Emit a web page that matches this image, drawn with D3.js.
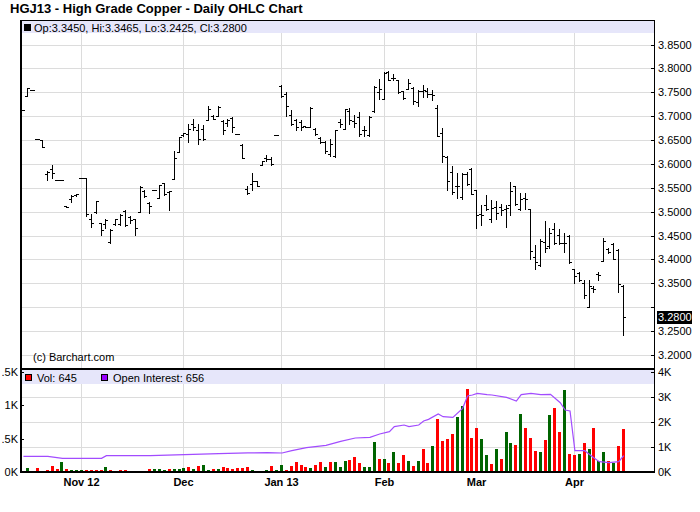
<!DOCTYPE html>
<html>
<head>
<meta charset="utf-8">
<script src="https://cdn.jsdelivr.net/npm/d3@7"></script>
<style>
  html, body { margin: 0; padding: 0; background: #fff; }
  svg { display: block; font-family: "Liberation Sans", Arial, sans-serif; }
</style>
</head>
<body>
<svg id="chart" width="700" height="512"></svg>
<script>
// ---------------- DATA ----------------
const title = "HGJ13 - High Grade Copper - Daily OHLC Chart";
const firstDay = -12;   // trading-day index of first bar (Nov 1, 2012 = 0)
const opens = [
 3.713,3.742,3.755,3.652,3.650,3.579,3.589,3.566,3.566,3.512,
 3.5275,3.5345,3.570,3.570,3.4855,3.4995,3.4755,3.4735,3.4365,3.4735,
 3.4735,3.5015,3.488,3.484,3.4995,3.543,3.5175,3.545,3.5295,3.5595,
 3.541,3.568,3.625,3.6605,3.663,3.684,3.672,3.673,3.692,3.701,
 3.7005,3.690,3.686,3.6965,3.663,3.640,3.547,3.5575,3.564,3.5975,
 3.6125,3.610,3.6605,3.764,3.747,3.703,3.692,3.688,3.6795,3.6775,
 3.673,3.6545,3.646,3.6205,3.6165,3.688,3.673,3.711,3.690,3.6985,
 3.671,3.6605,3.711,3.751,3.7365,3.793,3.780,3.776,3.752,3.7575,
 3.7595,3.730,3.753,3.753,3.747,3.7175,3.665,3.6155,3.583,3.5535,
 3.530,3.5785,3.589,3.545,3.495,3.513,3.484,3.509,3.509,3.505,
 3.5135,3.5535,3.505,3.528,3.506,3.406,3.388,3.4375,3.429,3.463,
 3.4505,3.4355,3.450,3.380,3.3725,3.3515,3.301,3.341,3.3705,3.3965,
 3.421,3.4315,3.4195,3.3450];
const highs = [
 3.713,3.759,3.755,3.652,3.650,3.585,3.598,3.566,3.566,3.512,
 3.5345,3.538,3.570,3.570,3.4945,3.5225,3.477,3.4855,3.463,3.4855,
 3.4945,3.5035,3.491,3.484,3.553,3.545,3.5205,3.545,3.5555,3.561,
 3.5435,3.628,3.656,3.665,3.684,3.694,3.684,3.682,3.722,3.703,
 3.722,3.691,3.693,3.698,3.663,3.642,3.553,3.581,3.5645,3.6065,
 3.6185,3.614,3.6605,3.766,3.7505,3.712,3.694,3.691,3.680,3.719,
 3.675,3.656,3.6485,3.652,3.672,3.694,3.7155,3.717,3.7015,3.7085,
 3.680,3.700,3.763,3.777,3.7925,3.794,3.789,3.776,3.7525,3.777,
 3.761,3.754,3.7645,3.759,3.754,3.724,3.675,3.616,3.595,3.581,
 3.581,3.5835,3.5905,3.5455,3.5135,3.5345,3.5245,3.5225,3.517,3.5135,
 3.563,3.554,3.540,3.540,3.5065,3.431,3.442,3.480,3.4665,3.4755,
 3.463,3.4545,3.4505,3.380,3.373,3.358,3.358,3.345,3.373,3.4455,
 3.4245,3.4335,3.421,3.3465];
const lows = [
 3.713,3.742,3.755,3.652,3.635,3.567,3.570,3.566,3.566,3.509,
 3.5205,3.533,3.570,3.491,3.4685,3.498,3.4505,3.4665,3.435,3.4715,
 3.4715,3.470,3.477,3.451,3.4995,3.5315,3.498,3.545,3.5295,3.5345,
 3.5035,3.568,3.624,3.659,3.645,3.672,3.642,3.651,3.691,3.693,
 3.700,3.663,3.680,3.6665,3.663,3.612,3.5365,3.5455,3.553,3.5975,
 3.6065,3.5975,3.6605,3.740,3.700,3.682,3.670,3.672,3.677,3.677,
 3.661,3.644,3.623,3.616,3.614,3.677,3.673,3.684,3.677,3.659,
 3.659,3.659,3.7085,3.7365,3.7365,3.775,3.776,3.748,3.7365,3.756,
 3.726,3.722,3.740,3.740,3.733,3.658,3.603,3.5455,3.5365,3.5295,
 3.5275,3.5555,3.5365,3.4665,3.472,3.5035,3.478,3.4855,3.4925,3.468,
 3.493,3.514,3.5035,3.505,3.402,3.380,3.386,3.415,3.424,3.4315,
 3.433,3.415,3.393,3.351,3.3555,3.319,3.300,3.331,3.358,3.396,
 3.4125,3.401,3.331,3.2425];
const closes = [
 3.713,3.759,3.755,3.652,3.635,3.584,3.582,3.566,3.566,3.509,
 3.5325,3.5365,3.570,3.496,3.477,3.5225,3.4615,3.482,3.4615,3.484,
 3.4925,3.4715,3.482,3.4665,3.5515,3.5325,3.512,3.545,3.5555,3.5365,
 3.543,3.612,3.6555,3.664,3.673,3.6775,3.652,3.652,3.7155,3.694,
 3.7195,3.670,3.692,3.677,3.663,3.6125,3.539,3.5645,3.5535,3.606,
 3.611,3.600,3.6605,3.743,3.722,3.684,3.6775,3.6775,3.6775,3.7175,
 3.663,3.646,3.627,3.642,3.670,3.684,3.7155,3.692,3.686,3.663,
 3.670,3.6985,3.762,3.7575,3.791,3.776,3.779,3.751,3.7375,3.770,
 3.732,3.753,3.754,3.747,3.745,3.659,3.617,3.5645,3.5415,3.553,
 3.579,3.5575,3.5365,3.4925,3.4935,3.505,3.5085,3.4965,3.503,3.507,
 3.5435,3.5155,3.5275,3.527,3.417,3.3955,3.4385,3.425,3.456,3.435,
 3.4355,3.435,3.395,3.366,3.358,3.326,3.3435,3.339,3.368,3.4385,
 3.4165,3.402,3.3495,3.2800];
const volumes = [
 0,60,0,60,0,30,90,45,150,45,
 30,30,30,30,30,30,30,75,30,0,
 30,30,0,0,0,0,45,45,45,30,
 45,45,45,60,75,45,90,105,30,45,
 45,75,60,45,60,65,75,30,0,0,
 30,90,30,105,30,90,150,105,75,60,
 105,150,75,150,150,75,165,180,225,135,
 75,75,450,195,195,135,300,135,255,165,
 90,165,345,135,390,795,465,495,570,825,
 990,1245,510,660,495,255,120,345,195,600,
 435,405,870,660,510,315,300,480,855,960,
 600,1230,270,255,270,435,345,660,165,300,
 165,135,390,645];
// G = up day (green volume), R = down day (red volume), . = no volume
const volumeDirection = (
 ".G.R.RRRGR" + "GGGRRRRGR." + "RR....RGGG" + "RGGGRGRGGR" +
 "GRRRRRRG.." + "GRGGRRRRRG" + "RRGRGGGRRR" + "GGGRGRGRRG" +
 "RGRRGRRRRG" + "GRRRGGRGRG" + "GRGRRRGRGR" + "RGRRGRGRGG" + "RGRR").split("");
// open interest, read at these trading-day indices
const oiDays = [-12,-7,-4,4,5,14,21,28,34,38,41,43,46,50,53,56,59,61,63,64,66,67,69,70,71,73,74,76,78,79,80,81,83,84,87,89,90,92,94,96,98,99,100,101,103,105,106,108,110,111];
const oiValues = [628,628,547,547,653,653,693,733,765,773,760,853,973,1067,1227,1360,1387,1520,1613,1813,1880,1813,1880,2040,2107,2320,2213,2187,2547,3040,3080,3147,3093,3080,2987,2840,3093,3147,3093,3107,2773,2480,2440,853,853,547,413,373,413,656];

const monthTickDays = [0, 21, 41, 62, 81, 101];
const monthTickLabels = ["Nov 12", "Dec", "Jan 13", "Feb", "Mar", "Apr"];
const priceTicks = [3.20,3.25,3.30,3.35,3.40,3.45,3.50,3.55,3.60,3.65,3.70,3.75,3.80,3.85];
const volumeTicks = [0, 500, 1000, 1500];
const volumeTickLabels = ["0K", ".5K", "1K", ".5K"];   // as printed (top label is clipped to ".5K")
const oiTicks = [0, 1000, 2000, 3000, 4000];
const oiTickLabels = ["0K", "1K", "2K", "3K", "4K"];

// ---------------- LAYOUT ----------------
const svg = d3.select("#chart");
const L = 21, R = 654;
const pTop = 21, pBot = 368;
const vTop = 370, vBot = 472;
const FONT = '"Liberation Sans", Arial, sans-serif';
const GRID = "#dcdcdc", BAND = "#e6e6fa";
const UP = "#006400", DOWN = "#ff0000", OI = "#a24cff";

const x = d3.scaleLinear().domain([0, 101]).range([81.5, 574.4]);
const yP = d3.scaleLinear().domain([3.20, 3.85]).range([355, 44.5]);
const yV = d3.scaleLinear().domain([0, 1500]).range([472, 372]);
const yO = d3.scaleLinear().domain([0, 4000]).range([472, 372]);

const bars = opens.map((o, k) => ({
  day: firstDay + k, o, h: highs[k], l: lows[k], c: closes[k],
  v: volumes[k], dir: volumeDirection[k]
}));
const last = bars[bars.length - 1];

// title
svg.append("text").attr("x", 10).attr("y", 13)
  .attr("font-size", 13).attr("font-weight", "bold").attr("font-family", FONT)
  .text(title);

// ---------- grids ----------
svg.selectAll("line.hg").data(priceTicks).join("line")
  .attr("x1", L).attr("x2", R)
  .attr("y1", d => Math.round(yP(d)) + 0.5).attr("y2", d => Math.round(yP(d)) + 0.5)
  .attr("stroke", GRID);
svg.selectAll("line.vg").data(monthTickDays).join("line")
  .attr("x1", d => Math.floor(x(d)) + 0.5).attr("x2", d => Math.floor(x(d)) + 0.5)
  .attr("y1", pTop).attr("y2", vBot)
  .attr("stroke", GRID);
svg.selectAll("line.vgh").data(oiTicks.slice(1, 4)).join("line")
  .attr("x1", L).attr("x2", R)
  .attr("y1", d => Math.round(yO(d)) + 0.5).attr("y2", d => Math.round(yO(d)) + 0.5)
  .attr("stroke", GRID);

// bands
svg.append("rect").attr("x", L).attr("y", pTop).attr("width", R - L).attr("height", 12).attr("fill", BAND);
svg.append("rect").attr("x", L).attr("y", vTop).attr("width", R - L).attr("height", 14).attr("fill", BAND);

// OHLC bars
const gBars = svg.append("g").attr("fill", "#000");
bars.forEach(b => {
  const xc = Math.floor(x(b.day));
  const yh = Math.round(yP(b.h)), yl = Math.round(yP(b.l));
  gBars.append("rect").attr("x", xc).attr("y", yh).attr("width", 1).attr("height", Math.max(1, yl - yh + 1));
  gBars.append("rect").attr("x", xc - 2).attr("y", Math.round(yP(b.o))).attr("width", 2).attr("height", 1);
  gBars.append("rect").attr("x", xc + 1).attr("y", Math.round(yP(b.c))).attr("width", 2).attr("height", 1);
});

// price axis (right)
const yLast = Math.round(yP(last.c));
priceTicks.forEach(t => {
  const yy = Math.round(yP(t));
  svg.append("rect").attr("x", R - 3).attr("y", yy).attr("width", 3).attr("height", 1).attr("fill", "#000");
  if (Math.abs(yy - yLast) > 11) {
    svg.append("text").attr("x", R + 4).attr("y", yy).attr("dy", "0.36em")
      .attr("font-size", 11).attr("font-family", FONT).text(t.toFixed(4));
  }
});
svg.append("rect").attr("x", R + 3).attr("y", yLast - 6).attr("width", 35).attr("height", 13).attr("fill", "#000");
svg.append("text").attr("x", R + 4).attr("y", yLast).attr("dy", "0.36em")
  .attr("font-size", 11).attr("font-family", FONT).attr("fill", "#fff").text(last.c.toFixed(4));

// price legend
svg.append("rect").attr("x", 24).attr("y", 24).attr("width", 7).attr("height", 7).attr("fill", "#000");
svg.append("text").attr("x", 34).attr("y", 31.5).attr("font-size", 11).attr("font-family", FONT)
  .text(`Op:${last.o.toFixed(4)}, Hi:${last.h.toFixed(4)}, Lo:${last.l.toFixed(4)}, Cl:${last.c.toFixed(4)}`);
svg.append("text").attr("x", 33).attr("y", 361).attr("font-size", 11).attr("font-family", FONT)
  .text("(c) Barchart.com");

// ---------- volume panel ----------
svg.append("g").selectAll("rect").data(bars.filter(b => b.v > 0)).join("rect")
  .attr("x", d => Math.floor(x(d.day)) - 1)
  .attr("y", d => Math.round(yV(d.v)))
  .attr("width", 3)
  .attr("height", d => vBot - Math.round(yV(d.v)))
  .attr("fill", d => d.dir === "G" ? UP : DOWN);

// open interest line
const oiPts = oiDays.map((d, k) => [x(d) + 0.5, yO(oiValues[k])]);
svg.append("path").attr("d", d3.line()(oiPts))
  .attr("fill", "none").attr("stroke", OI).attr("stroke-width", 1.2);

// volume legend
svg.append("rect").attr("x", 25.5).attr("y", 374.5).attr("width", 6).attr("height", 6)
  .attr("fill", DOWN).attr("stroke", "#000");
svg.append("text").attr("x", 37).attr("y", 382).attr("font-size", 11).attr("font-family", FONT)
  .text(`Vol: ${last.v}`);
svg.append("rect").attr("x", 101.5).attr("y", 374.5).attr("width", 6).attr("height", 6)
  .attr("fill", "#9900ff").attr("stroke", "#000");
svg.append("text").attr("x", 113).attr("y", 382).attr("font-size", 11).attr("font-family", FONT)
  .text(`Open Interest: ${oiValues[oiValues.length - 1]}`);

// left volume axis
volumeTicks.forEach((t, k) => {
  const yy = Math.round(yV(t));
  svg.append("rect").attr("x", L).attr("y", yy).attr("width", 3).attr("height", 1).attr("fill", "#000");
  svg.append("text").attr("x", 18).attr("y", yy).attr("dy", "0.36em").attr("text-anchor", "end")
    .attr("font-size", 11).attr("font-family", FONT)
    .text(volumeTickLabels[k]);
});
// right OI axis
oiTicks.forEach((t, k) => {
  const yy = Math.round(yO(t));
  svg.append("rect").attr("x", R - 3).attr("y", yy).attr("width", 3).attr("height", 1).attr("fill", "#000");
  svg.append("text").attr("x", R + 4).attr("y", yy).attr("dy", "0.36em")
    .attr("font-size", 11).attr("font-family", FONT).text(oiTickLabels[k]);
});

// x-axis labels
svg.selectAll("text.xl").data(monthTickDays).join("text")
  .attr("x", d => Math.floor(x(d)) + 0.5).attr("y", 486)
  .attr("text-anchor", "middle").attr("font-size", 11).attr("font-weight", "bold")
  .attr("font-family", FONT)
  .text((d, k) => monthTickLabels[k]);

// frame
svg.append("rect").attr("x", 20).attr("y", 20).attr("width", 2).attr("height", vBot - 20 + 1).attr("fill", "#000");
svg.append("rect").attr("x", R).attr("y", 20).attr("width", 1).attr("height", vBot - 20 + 1).attr("fill", "#000");
svg.append("rect").attr("x", 20).attr("y", 20).attr("width", R - 20 + 1).attr("height", 1).attr("fill", "#000");
svg.append("rect").attr("x", 20).attr("y", pBot).attr("width", R - 20 + 1).attr("height", 2).attr("fill", "#000");
svg.append("rect").attr("x", 20).attr("y", vBot - 1).attr("width", R - 20 + 1).attr("height", 2).attr("fill", "#000");
</script>
</body>
</html>
